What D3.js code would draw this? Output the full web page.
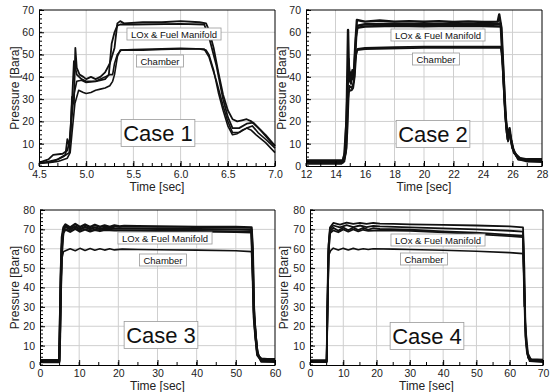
<!DOCTYPE html>
<html>
<head>
<meta charset="utf-8">
<script src="https://cdn.jsdelivr.net/npm/d3@7"></script>
<style>
  body { margin: 0; background: #fff; }
  svg { display: block; font-family: "Liberation Sans", Arial, sans-serif; }
</style>
</head>
<body>
<svg id="chart" width="551" height="392"></svg>
<script>
// ---- data (time [sec], pressure [Bara]) ----
const case1Chamber = [
  [[4.5,1.5],[4.6,1.5],[4.7,2],[4.8,3.5],[4.83,6],[4.85,15],[4.88,28],[4.92,34],[4.97,33],[5.0,32.5],[5.05,33],[5.1,34],[5.15,34.5],[5.2,35],[5.25,36],[5.28,38],[5.3,41],[5.33,49],[5.36,52],[5.45,52],[5.6,52],[5.8,52.3],[6.0,52.5],[6.2,52.5],[6.27,52],[6.3,50],[6.35,43],[6.4,33],[6.45,25],[6.5,18],[6.55,14],[6.6,14.5],[6.65,16],[6.7,17],[6.75,16],[6.8,14],[6.9,10.5],[7.0,6]],
  [[4.5,1],[4.65,2],[4.75,4],[4.82,6],[4.84,18],[4.87,32],[4.9,38],[4.95,38.5],[5.0,37.5],[5.1,38],[5.2,40],[5.25,41],[5.28,41],[5.3,46],[5.33,50],[5.37,52],[5.5,52.3],[6.0,52.8],[6.25,52.5],[6.3,49],[6.38,38],[6.45,27],[6.5,20],[6.55,15],[6.62,15],[6.7,17],[6.76,18],[6.82,15],[6.9,12],[7.0,8]]
];
const case1Manifold = [
  [[4.5,1.5],[4.6,3],[4.65,5],[4.75,5.5],[4.8,7],[4.83,12],[4.85,31],[4.87,28],[4.885,53],[4.9,44],[4.93,41],[4.97,40],[5.0,39],[5.05,40],[5.1,39],[5.15,40],[5.2,42],[5.25,46],[5.3,53],[5.33,64],[5.36,65],[5.4,64],[5.6,64.5],[5.8,64.5],[6.0,65],[6.2,64.5],[6.27,64],[6.3,61],[6.35,53],[6.4,42],[6.45,32],[6.5,25],[6.55,21],[6.6,20],[6.65,20.5],[6.7,21],[6.75,20],[6.8,18],[6.9,14],[7.0,9]],
  [[4.5,1.2],[4.6,2],[4.7,3],[4.78,5],[4.8,12],[4.82,9],[4.84,20],[4.87,47],[4.9,41],[4.95,39],[5.0,38],[5.1,38],[5.2,39],[5.24,41],[5.27,55],[5.3,60],[5.33,63],[5.36,63.5],[5.5,63.5],[6.0,63.8],[6.25,63.5],[6.3,58],[6.38,45],[6.45,30],[6.5,22],[6.55,17],[6.62,17],[6.7,19],[6.77,19.5],[6.85,16],[6.95,11],[7.0,9]]
];

const case2Chamber = [
  [[12,1.5],[14.5,1.5],[14.6,3],[14.7,6],[14.8,15],[14.9,33],[15.0,34],[15.1,34],[15.2,35],[15.3,40],[15.4,50],[15.5,52.5],[16,53],[18,53.3],[20,53.5],[22,53.5],[24,53.5],[25.2,53.5],[25.3,48],[25.45,30],[25.6,15],[25.7,11],[25.8,16],[25.9,12],[26.1,6],[26.4,3],[27,2],[28,1.8]],
  [[12,1],[14.4,1],[14.6,2],[14.75,8],[14.85,30],[14.95,36],[15.1,35],[15.25,38],[15.35,48],[15.45,52],[16,52.5],[20,53],[24,53],[25.25,53],[25.35,45],[25.5,25],[25.65,12],[25.8,14],[26,8],[26.3,4],[27,2.5],[28,2.5]]
];
const case2Manifold = [
  [[12,2.5],[14.5,2.5],[14.6,5],[14.75,20],[14.85,61],[14.9,45],[14.95,38],[15.05,42],[15.15,39],[15.25,42],[15.35,55],[15.45,65.5],[16,64.8],[17,65.3],[18,64.8],[19,65],[20,64.7],[21,65],[22,64.6],[23,64.9],[24,64.6],[25,64.8],[25.1,68],[25.25,62],[25.4,40],[25.55,20],[25.7,13],[25.8,17],[25.9,12],[26.1,6],[26.5,3.5],[27,3],[28,3]],
  [[12,2],[14.5,2],[14.65,6],[14.8,30],[14.88,48],[14.95,40],[15.05,37],[15.15,43],[15.25,40],[15.4,58],[15.5,63],[16,63.6],[18,63.9],[20,63.7],[22,63.9],[24,63.8],[25.2,63.8],[25.35,45],[25.5,25],[25.65,14],[25.8,15],[26,8],[26.4,3],[28,2.5]],
  [[15.45,62],[16,62.6],[18,62.9],[20,62.7],[22,62.9],[24,62.8],[25.25,62.6]]
];

const case3Chamber = [
  [[0,1.5],[4.9,1.5],[5.1,15],[5.3,40],[5.6,55],[6.0,58.5],[6.5,59],[7.7,60],[9,59],[10.2,60.2],[11.5,59.1],[12.8,60.1],[14,59.2],[15.3,60],[16.5,59.3],[17.8,60],[19,59.4],[21,59.8],[25,59.6],[30,59.5],[40,59.3],[50,59],[54,58.5],[54.4,40],[54.7,25],[55,18],[55.5,6],[56.5,2.5],[60,2]]
];
const case3Manifold = [
  [[0,2.5],[4.9,2.5],[5.1,20],[5.3,45],[5.6,66],[6.0,71],[6.5,72.5],[7.7,71],[9,72.8],[10.2,71.2],[11.5,72.5],[12.8,71.2],[14,72.3],[15.3,71.3],[16.5,72],[17.8,71.3],[19,72],[20.3,71.5],[21.5,71.8],[25,71.7],[30,71.5],[40,71.3],[50,71.2],[54,71],[54.3,60],[54.6,30],[54.8,22],[55.1,14],[55.4,8],[55.8,4.5],[56.5,3.3],[58,3],[60,3]],
  [[0,1.8],[4.9,1.8],[5.1,15],[5.3,38],[5.5,55],[5.9,68],[6.5,70],[7.7,68.8],[9,70.3],[10.2,68.9],[11.5,70],[12.8,69],[14,69.8],[15.3,69.2],[16.5,69.8],[19,69.5],[25,69.4],[30,69.3],[40,69],[50,68.8],[54,68.5],[54.3,50],[54.6,25],[55,15],[55.5,5],[56.5,2.5],[60,2.2]],
  [[0,1.5],[4.9,1.5],[5.2,30],[5.5,60],[6.0,70],[6.5,71.5],[7.7,70],[9,71.5],[10.2,70],[11.5,71.3],[12.8,70.1],[14,71],[15.3,70.2],[16.5,70.8],[19,70.6],[25,70.5],[30,70.3],[40,70.1],[50,70],[54,69.8],[54.3,55],[54.6,28],[55,16],[55.5,6],[56.5,1.8],[60,1.6]]
];

const case4Chamber = [
  [[0,1.5],[5,1.5],[5.2,20],[5.4,40],[5.7,57],[6.2,59],[7,60.3],[8.5,59.3],[10,60.2],[11.5,59.4],[13,60.2],[14.5,59.5],[16,60],[17.5,59.6],[19,60],[25,59.8],[30,59.6],[40,59.2],[50,58.7],[60,58],[64,57.5],[64.4,40],[64.7,22],[65,15],[65.5,6],[66.5,2.5],[70,2]]
];
const case4Manifold = [
  [[0,2.5],[5,2.5],[5.2,30],[5.5,60],[6,71],[7,73.3],[9,72.5],[11,73.5],[13,72.8],[15,73.3],[17,72.8],[19,73.3],[21,73],[25,72.8],[30,72.6],[40,72.3],[50,72],[60,71.5],[64,71],[64.4,50],[64.7,22],[65,12],[65.5,4],[66.5,3],[70,2.8]],
  [[0,1.8],[5,1.8],[5.2,25],[5.5,55],[6,70],[7,72],[9,71],[11,72.2],[13,71.2],[15,72],[17,71.2],[19,71.8],[21,71.5],[30,71],[40,70.5],[50,70],[60,69.3],[64,68.8],[64.4,40],[64.7,18],[65,10],[65.6,3.5],[66.5,2.2],[70,2]],
  [[0,1.5],[5,1.5],[5.3,35],[5.6,62],[6,69],[7,70.8],[8.5,69.3],[10,71],[11.5,69.5],[13,71],[14.5,69.7],[16,70.8],[17.5,69.8],[19,70.6],[21,70.2],[30,69.8],[40,69],[50,68.3],[60,67.2],[64,66.8],[64.4,35],[64.7,15],[65.2,6],[66,2],[70,1.5]],
  [[5,1.5],[5.3,30],[5.6,58],[6,68],[7,69.5],[8.5,68.5],[10,70],[11.5,68.8],[13,70],[14.5,69],[16,69.8],[17.5,69.2],[21,69.5],[30,69.2],[40,68.5],[50,67.5],[60,66.5],[64,66],[64.4,30]]
];

const xTicks1 = [4.5, 5.0, 5.5, 6.0, 6.5, 7.0];
const xTicks2 = [12, 14, 16, 18, 20, 22, 24, 26, 28];
const xTicks3 = [0, 10, 20, 30, 40, 50, 60];
const xTicks4 = [0, 10, 20, 30, 40, 50, 60, 70];
const yTicks70 = [0, 10, 20, 30, 40, 50, 60, 70];
const yTicks80 = [0, 10, 20, 30, 40, 50, 60, 70, 80];
const caseNames = ['Case 1', 'Case 2', 'Case 3', 'Case 4'];
const manifoldLabel = 'LOx & Fuel Manifold';
const chamberLabel = 'Chamber';

// ---- layout ----
const panels = [
  { x0: 39, x1: 275, y0: 10, y1: 166, xDomain: [4.5, 7.0], yDomain: [0, 70], xTicks: xTicks1, yTicks: yTicks70,
    xFmt: d3.format('.1f'), xMinor: 0.1, yMinor: 2, chamber: case1Chamber, manifold: case1Manifold, manW: 1.8, chW: 1.6,
    name: caseNames[0], titleX: 15, manPos: [174, 34], chPos: [160, 61], casePos: [158, 133] },
  { x0: 306, x1: 542, y0: 10, y1: 166, xDomain: [12, 28], yDomain: [0, 70], xTicks: xTicks2, yTicks: yTicks70,
    xFmt: d3.format('d'), xMinor: 1, yMinor: 2, chamber: case2Chamber, manifold: case2Manifold, manW: 2.4, chW: 1.8,
    name: caseNames[1], titleX: 282, manPos: [438, 35], chPos: [436, 59], casePos: [433, 134] },
  { x0: 40, x1: 275, y0: 210, y1: 365, xDomain: [0, 60], yDomain: [0, 80], xTicks: xTicks3, yTicks: yTicks80,
    xFmt: d3.format('d'), xMinor: 5, yMinor: 2, chamber: case3Chamber, manifold: case3Manifold, manW: 2.4, chW: 1.6,
    name: caseNames[2], titleX: 15, manPos: [165, 238], chPos: [163, 260], casePos: [161, 335] },
  { x0: 310, x1: 543, y0: 210, y1: 365, xDomain: [0, 70], yDomain: [0, 80], xTicks: xTicks4, yTicks: yTicks80,
    xFmt: d3.format('d'), xMinor: 5, yMinor: 2, chamber: case4Chamber, manifold: case4Manifold, manW: 1.8, chW: 1.6,
    name: caseNames[3], titleX: 284, manPos: [438, 240], chPos: [424, 259], casePos: [427, 336] }
];

const svg = d3.select('#chart');

function boxLabel(g, text, cx, cy, size, padX, padY) {
    const t = g.append('text')
        .attr('x', cx).attr('y', cy)
        .attr('text-anchor', 'middle')
        .attr('dominant-baseline', 'central')
        .attr('font-size', size)
        .attr('fill', '#111')
        .text(text);
    const bb = t.node().getBBox();
    g.insert('rect', 'text:last-child')
        .attr('x', bb.x - padX).attr('y', bb.y - padY)
        .attr('width', bb.width + 2 * padX).attr('height', bb.height + 2 * padY)
        .attr('fill', '#fff')
        .attr('stroke', '#999')
        .attr('stroke-width', 0.8);
}

panels.forEach(p => {
    const g = svg.append('g');
    const x = d3.scaleLinear().domain(p.xDomain).range([p.x0, p.x1]);
    const y = d3.scaleLinear().domain(p.yDomain).range([p.y1, p.y0]);

    // grid
    g.append('g').selectAll('line.vg')
        .data(p.xTicks.slice(1, -1))
        .enter().append('line')
        .attr('x1', d => x(d)).attr('x2', d => x(d))
        .attr('y1', p.y0).attr('y2', p.y1)
        .attr('stroke', '#cfcfcf').attr('stroke-width', 1);
    g.append('g').selectAll('line.hg')
        .data(p.yTicks.slice(1, -1))
        .enter().append('line')
        .attr('x1', p.x0).attr('x2', p.x1)
        .attr('y1', d => y(d)).attr('y2', d => y(d))
        .attr('stroke', '#cfcfcf').attr('stroke-width', 1);

    // traces
    const line = d3.line().x(d => x(d[0])).y(d => y(d[1]));
    g.append('g').selectAll('path.man')
        .data(p.manifold)
        .enter().append('path')
        .attr('d', line)
        .attr('fill', 'none')
        .attr('stroke', '#111')
        .attr('stroke-width', p.manW)
        .attr('stroke-linejoin', 'round');
    g.append('g').selectAll('path.ch')
        .data(p.chamber)
        .enter().append('path')
        .attr('d', line)
        .attr('fill', 'none')
        .attr('stroke', '#111')
        .attr('stroke-width', p.chW)
        .attr('stroke-linejoin', 'round');

    // minor ticks
    const xMinorTicks = d3.range(p.xDomain[0], p.xDomain[1] + 1e-9, p.xMinor);
    const yMinorTicks = d3.range(p.yDomain[0], p.yDomain[1] + 1e-9, p.yMinor);

    const xAxis = d3.axisBottom(x).tickValues(p.xTicks).tickFormat(p.xFmt).tickSizeInner(-5).tickSizeOuter(0).tickPadding(5);
    const yAxis = d3.axisLeft(y).tickValues(p.yTicks).tickSizeInner(-5).tickSizeOuter(0).tickPadding(5);

    const gx = g.append('g').attr('transform', `translate(0,${p.y1})`).call(xAxis);
    gx.append('g').selectAll('line')
        .data(xMinorTicks).enter().append('line')
        .attr('x1', d => x(d)).attr('x2', d => x(d))
        .attr('y1', 0).attr('y2', -3).attr('stroke', '#000');
    const gy = g.append('g').attr('transform', `translate(${p.x0},0)`).call(yAxis);
    gy.append('g').selectAll('line')
        .data(yMinorTicks).enter().append('line')
        .attr('x1', 0).attr('x2', 3)
        .attr('y1', d => y(d)).attr('y2', d => y(d)).attr('stroke', '#000');

    [gx, gy].forEach(a => {
        a.selectAll('text').attr('font-size', 10.5).attr('fill', '#222')
            .attr('font-family', '"Liberation Sans", Arial, sans-serif');
        a.select('.domain').attr('stroke', '#000');
    });

    // frame top & right
    g.append('path')
        .attr('d', `M${p.x0},${p.y0}H${p.x1}V${p.y1}`)
        .attr('fill', 'none').attr('stroke', '#000');

    // axis titles
    g.append('text')
        .attr('transform', `translate(${p.titleX},${(p.y0 + p.y1) / 2}) rotate(-90)`)
        .attr('text-anchor', 'middle')
        .attr('dominant-baseline', 'central')
        .attr('font-size', 12).attr('fill', '#222')
        .text('Pressure [Bara]');
    g.append('text')
        .attr('x', (p.x0 + p.x1) / 2).attr('y', p.y1 + 21)
        .attr('text-anchor', 'middle')
        .attr('dominant-baseline', 'central')
        .attr('font-size', 12).attr('fill', '#222')
        .text('Time [sec]');

    // annotations
    boxLabel(g.append('g'), manifoldLabel, p.manPos[0], p.manPos[1], 9.5, 4, 0.5);
    boxLabel(g.append('g'), chamberLabel, p.chPos[0], p.chPos[1], 9.5, 4, 0.5);
    boxLabel(g.append('g'), p.name, p.casePos[0], p.casePos[1], 22, 2, 1);
});
</script>
</body>
</html>
